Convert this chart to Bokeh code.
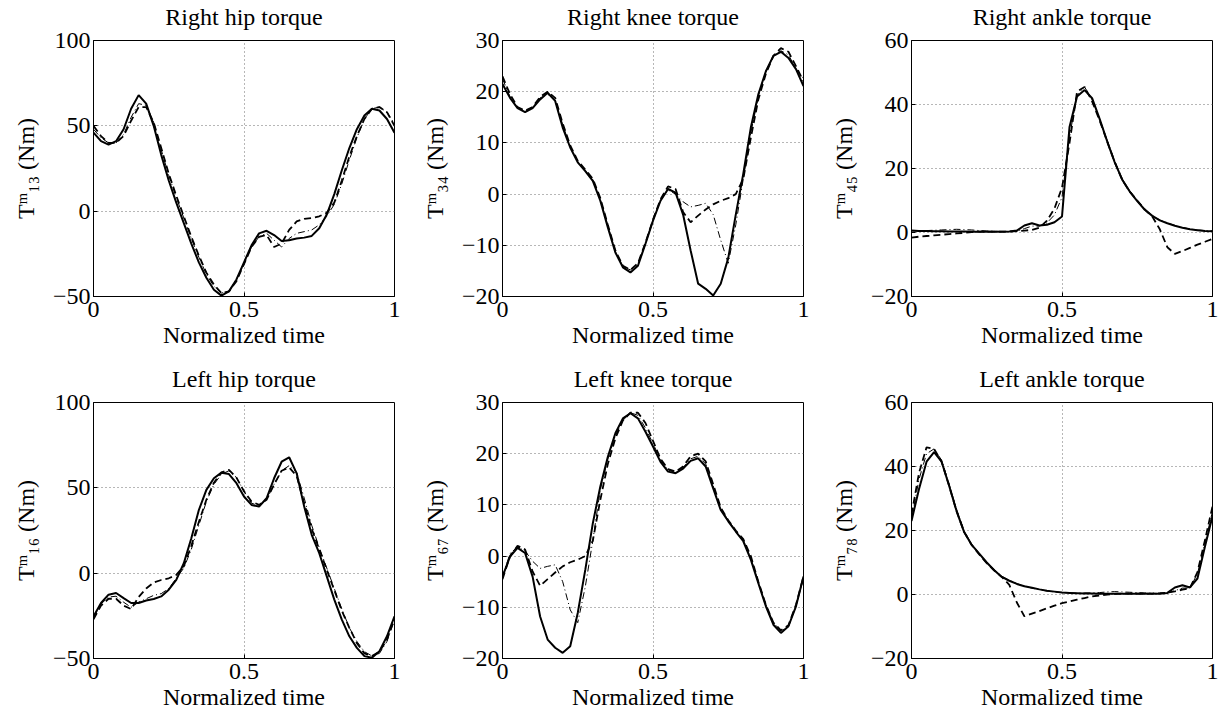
from bokeh.plotting import figure
from bokeh.layouts import column, row
from bokeh.models import Range1d, FixedTicker, LinearAxis
from bokeh.embed import file_html
from bokeh.resources import INLINE

# Normalized time samples
t = [0.0, 0.025, 0.05, 0.075, 0.1, 0.125, 0.15, 0.175, 0.2, 0.225,
     0.25, 0.275, 0.3, 0.325, 0.35, 0.375, 0.4, 0.425, 0.45, 0.475,
     0.5, 0.525, 0.55, 0.575, 0.6, 0.625, 0.65, 0.675, 0.7, 0.725,
     0.75, 0.775, 0.8, 0.825, 0.85, 0.875, 0.9, 0.925, 0.95, 0.975, 1.0]

titles = ["Right hip torque", "Right knee torque", "Right ankle torque",
          "Left hip torque", "Left knee torque", "Left ankle torque"]
ylabels = ["T\u1d50\u2081\u2083 (Nm)", "T\u1d50\u2083\u2084 (Nm)", "T\u1d50\u2084\u2085 (Nm)",
           "T\u1d50\u2081\u2086 (Nm)", "T\u1d50\u2086\u2087 (Nm)", "T\u1d50\u2087\u2088 (Nm)"]
x_label = "Normalized time"
hip_ticks = [-50, 0, 50, 100]
knee_ticks = [-20, -10, 0, 10, 20, 30]
ankle_ticks = [-20, 0, 20, 40, 60]
x_ticks = [0, 0.5, 1]

# Right hip
r_hip_solid = [46, 41, 39, 41, 48, 60, 68, 63, 50, 33, 18, 5, -7, -19, -30, -39, -46, -49.5, -47, -40,
               -30, -20, -13, -11.5, -14, -17.5, -17, -16, -15.5, -14.5, -10, -2, 10, 24, 37, 48, 56, 60, 59, 54, 46]
r_hip_dashed = [50, 44, 40, 40, 44, 53, 61, 61, 52, 37, 22, 9, -3, -15, -26, -36, -43, -48, -47, -41,
                -31, -21, -15, -14, -21, -19, -11, -6, -4.5, -4, -3, -1, 5, 18, 32, 44, 54, 60, 61, 58, 50]
r_hip_dashdot = [48, 43, 40, 40, 45, 55, 63, 62, 52, 36, 21, 8, -4, -16, -27, -37, -44, -48, -47, -40,
                 -31, -21, -15, -13, -17, -21, -16, -13, -12, -11, -8, -3, 4, 16, 30, 43, 54, 60, 61, 58, 51]

# Right knee
r_knee_solid = [21.5, 18.8, 16.8, 16.0, 16.8, 18.5, 19.8, 18.2, 13.0, 9.1, 6.2, 4.5, 2.6, -1.3, -6.5, -11.4, -14.3, -15.3, -14.0, -9.7,
                -5.2, -1.3, 1.0, 0.3, -4, -11, -17.5, -18.5, -19.8, -17.5, -12.5, -4, 4, 13, 19.5, 24, 27, 27.8, 26.6, 24.4, 21.1]
r_knee_dashed = [23, 19.5, 17, 16.3, 17, 19, 20, 18.8, 13.8, 9.5, 6.5, 4.8, 3, -0.8, -6, -11, -14, -14.8, -13.5, -9.5,
                 -5, -1, 1.5, 1, -3.5, -5.5, -4.2, -3, -2, -1.3, -0.8, 0, 3, 11, 18.5, 23.5, 27, 28.5, 27.8, 25, 22]
r_knee_dashdot = [22.5, 19, 16.8, 16.2, 17, 18.8, 19.5, 18.5, 13.5, 9.3, 6.3, 4.6, 2.8, -1, -6.2, -11.2, -14.2, -14.8, -13.6, -9.6,
                  -5, -1.2, 0.8, 0, -1.5, -2.5, -2.2, -1.8, -4, -9, -13.5, -6, 3, 12, 19, 24, 27, 28, 27.2, 24.5, 22.5]

# Right ankle
r_ankle_solid = [0.6, 0.5, 0.5, 0.4, 0.4, 0.3, 0.3, 0.3, 0.2, 0.2, 0.2, 0.2, 0.2, 0.3, 0.6, 2.2, 2.9, 2.2, 2.4, 3.2,
                 5, 33, 42.5, 44.5, 42, 35.5, 28.5, 22, 16.5, 12.8, 9.8, 7.1, 5.2, 3.8, 2.9, 2.1, 1.5, 1.0, 0.7, 0.5, 0.4]
r_ankle_dashed = [-1.6, -1.3, -1.1, -0.9, -0.7, -0.5, -0.3, -0.1, 0.1, 0.3, 0.3, 0.3, 0.3, 0.3, 0.4, 0.6, 0.8, 1.5, 3.7, 7.5,
                  14, 28, 44, 45.5, 41, 35, 28.5, 22, 16.5, 12.8, 10, 7.2, 5, 1, -4.6, -6.7, -5.8, -4.8, -3.8, -2.9, -2.0]
r_ankle_dashdot = [0.5, 0.5, 0.6, 0.7, 0.8, 0.9, 1.0, 0.9, 0.8, 0.6, 0.5, 0.4, 0.3, 0.3, 0.4, 1.2, 2.0, 2.0, 3.0, 5.5,
                   11, 30, 43, 45.5, 41.5, 35.5, 28.8, 22.3, 16.8, 13, 10, 7.2, 5.3, 3.9, 3, 2.2, 1.6, 1.1, 0.8, 0.6, 0.5]

# Left hip
l_hip_solid = [-25.3, -17.5, -12.6, -11.6, -14.6, -17.5, -17.5, -16, -15.1, -13.6, -9.7, -3.9, 5.8, 20.5, 37, 48.8, 55.6, 58.9, 58.1, 52.7,
               44.9, 40, 39, 43.9, 55.6, 65.3, 67.9, 58.5, 39, 22.5, 11.7, -1.9, -15.5, -27.2, -37, -43.8, -48.6, -49.6, -45.7, -37, -25.3]
l_hip_dashed = [-27, -19, -15, -15, -19, -21, -14, -9, -5.5, -4, -3, -1, 4, 16, 30, 43, 53, 59, 60.5, 56,
                48, 42, 40, 43, 52, 60, 62, 57, 41, 26, 14, 2, -10, -22, -32, -41, -47, -48.5, -46, -39, -27]
l_hip_dashdot = [-26, -18, -14, -13.5, -17, -20, -17, -15, -13, -12, -9, -3, 3, 14, 28, 42, 52, 58, 60, 56,
                 48, 41, 39.5, 43, 52, 60, 63, 59, 44, 28, 15, 3, -9, -21, -32, -40, -46, -48.5, -47, -40, -27]

# Left knee
l_knee_solid = [-4, -0.1, 1.6, 0.6, -4, -11.8, -16.3, -17.9, -18.9, -17.6, -11.1, -2.7, 6.4, 13.6, 19.4, 24, 26.9, 27.9, 26.9, 24.3,
                21.4, 18.4, 16.5, 16.2, 17.1, 18.6, 19.1, 17.5, 13.2, 9, 6.8, 4.8, 2.9, -0.7, -5.3, -9.8, -13.4, -15, -13.7, -9.8, -4]
l_knee_dashed = [-4.5, 0, 2, 1.3, -3, -5.8, -4.5, -3.2, -2, -1.2, -0.7, 0, 3, 11, 18, 23, 26.5, 28, 28, 26,
                 22.5, 19, 17, 16.5, 17.5, 19.5, 20, 18.5, 14, 9.5, 7, 5, 3.3, 0, -5, -9.5, -13, -14.5, -13.5, -9.5, -4]
l_knee_dashdot = [-4, 0.5, 1.8, 1, -1, -2.4, -2, -1.7, -5, -10.5, -13, -6, 3, 13, 19, 23.5, 26.5, 28, 27.5, 25,
                  22, 18.8, 16.8, 16.3, 17.3, 19, 19.5, 18, 13.7, 9.3, 7, 5, 3.1, -0.4, -5, -9.5, -13, -14.6, -13.8, -9.7, -4.2]

# Left ankle
l_ankle_solid = [23, 33, 41.5, 44.5, 41.5, 34, 26, 19.5, 15.5, 12.8, 10, 7.6, 5.5, 4.3, 3.3, 2.6, 2.1, 1.6, 1.2, 0.9,
                 0.6, 0.5, 0.4, 0.3, 0.3, 0.2, 0.2, 0.2, 0.2, 0.2, 0.2, 0.2, 0.2, 0.2, 0.5, 2.2, 2.9, 2.2, 5, 15, 24.5]
l_ankle_dashed = [25, 38, 46, 45.5, 41.5, 34, 26, 19.5, 15.5, 12.5, 9.8, 7.5, 5.5, 3, -2.5, -6.8, -6, -5.2, -4.3, -3.5,
                  -2.7, -2.2, -1.6, -1.1, -0.6, -0.3, 0, 0.2, 0.3, 0.3, 0.3, 0.3, 0.3, 0.4, 0.6, 1, 1.5, 2, 7, 17, 27.5]
l_ankle_dashdot = [23.5, 36, 44, 45.5, 42, 34.5, 26.5, 19.8, 15.7, 12.8, 10, 7.7, 5.7, 4.4, 3.4, 2.6, 2.0, 1.5, 1.1, 0.8,
                   0.6, 0.5, 0.4, 0.5, 0.5, 0.6, 0.8, 0.9, 0.8, 0.7, 0.6, 0.5, 0.4, 0.3, 0.4, 1.2, 2, 2, 6.5, 16, 26]

FONT = "Liberation Serif"
FS = "24px"


def fmt(v):
    s = ("%g" % abs(v))
    return ("\u2212" + s) if v < 0 else s


def make(title, ylabel, ticks, series, width, height, top, bottom, right, left):
    ymin, ymax = ticks[0], ticks[-1]
    p = figure(width=width, height=height, output_backend="svg", toolbar_location=None,
               x_range=Range1d(0, 1), y_range=Range1d(ymin, ymax),
               min_border_left=left, min_border_right=right, min_border_top=top,
               min_border_bottom=bottom)
    bottom_ax = p.below[0]
    left_ax = p.left[0]
    bottom_ax.ticker = FixedTicker(ticks=x_ticks)
    left_ax.ticker = FixedTicker(ticks=ticks)
    bottom_ax.major_label_overrides = {v: fmt(v) for v in x_ticks}
    left_ax.major_label_overrides = {v: fmt(v) for v in ticks}
    bottom_ax.axis_label = x_label
    left_ax.axis_label = ylabel
    for ax in (bottom_ax, left_ax):
        ax.axis_label_text_font = FONT
        ax.axis_label_text_font_size = FS
        ax.axis_label_text_font_style = "normal"
        ax.axis_label_text_color = "black"
        ax.major_label_text_font = FONT
        ax.major_label_text_font_size = FS
        ax.major_label_text_color = "black"
        ax.minor_tick_line_color = None
        ax.major_tick_in = 4
        ax.major_tick_out = 0
        ax.major_tick_line_color = "black"
        ax.axis_line_color = "black"
    bottom_ax.major_label_standoff = 5
    bottom_ax.axis_label_standoff = 2
    left_ax.major_label_standoff = 3
    left_ax.axis_label_standoff = 11
    # title drawn as the label of a tick-less axis above the frame
    top_ax = LinearAxis(ticker=FixedTicker(ticks=[]), axis_label=title,
                        axis_line_color=None, major_tick_line_color=None,
                        minor_tick_line_color=None,
                        major_label_standoff=0, major_tick_out=0, major_tick_in=0,
                        axis_label_standoff=11, axis_label_text_font=FONT,
                        axis_label_text_font_size=FS, axis_label_text_font_style="normal",
                        axis_label_text_color="black")
    p.add_layout(top_ax, "above")
    p.outline_line_color = "black"
    p.outline_line_alpha = 1
    p.outline_line_width = 1
    p.grid.grid_line_color = "#6e6e6e"
    p.grid.grid_line_dash = "1 3"
    p.grid.grid_line_width = 1
    s, d, dd = series
    p.line(t, s, line_color="black", line_width=2)
    p.line(t, d, line_color="black", line_width=1.8, line_dash="7 4")
    p.line(t, dd, line_color="black", line_width=1, line_dash="7 3 1 3")
    return p


p1 = make(titles[0], ylabels[0], hip_ticks, (r_hip_solid, r_hip_dashed, r_hip_dashdot), 417, 362, 40, 66, 23, 93)
p2 = make(titles[1], ylabels[1], knee_ticks, (r_knee_solid, r_knee_dashed, r_knee_dashdot), 409, 362, 40, 66, 23, 85)
p3 = make(titles[2], ylabels[2], ankle_ticks, (r_ankle_solid, r_ankle_dashed, r_ankle_dashdot), 398, 362, 40, 66, 12, 85)
p4 = make(titles[3], ylabels[3], hip_ticks, (l_hip_solid, l_hip_dashed, l_hip_dashdot), 417, 351, 40, 55, 23, 93)
p5 = make(titles[4], ylabels[4], knee_ticks, (l_knee_solid, l_knee_dashed, l_knee_dashdot), 409, 351, 40, 55, 23, 85)
p6 = make(titles[5], ylabels[5], ankle_ticks, (l_ankle_solid, l_ankle_dashed, l_ankle_dashdot), 398, 351, 40, 55, 12, 85)

layout = column(row(p1, p2, p3), row(p4, p5, p6))
open("out.html", "w").write(file_html(layout, INLINE))
